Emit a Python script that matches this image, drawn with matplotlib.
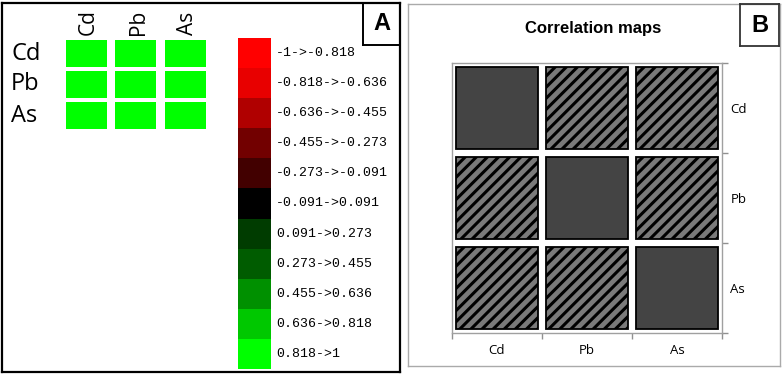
import numpy as np
import matplotlib
matplotlib.use("Agg")
import matplotlib.pyplot as plt
from matplotlib.colors import ListedColormap, BoundaryNorm
from matplotlib.patches import Rectangle

W, H = 782, 377

# data
elements = ['Cd', 'Pb', 'As']
corr = np.array([[1.00, 0.93, 0.90],
                 [0.93, 1.00, 0.91],
                 [0.90, 0.91, 1.00]])
bin_edges = [-1, -0.818, -0.636, -0.455, -0.273, -0.091, 0.091, 0.273, 0.455, 0.636, 0.818, 1]
bin_labels = ['-1->-0.818', '-0.818->-0.636', '-0.636->-0.455', '-0.455->-0.273',
              '-0.273->-0.091', '-0.091->0.091', '0.091->0.273', '0.273->0.455',
              '0.455->0.636', '0.636->0.818', '0.818->1']
bin_colors = ['#ff0000', '#e80000', '#b00000', '#720000', '#420000', '#000000',
              '#003c00', '#005c00', '#009000', '#00c800', '#00ff00']

cmap = ListedColormap(bin_colors)
norm = BoundaryNorm(bin_edges, cmap.N)


def box(x0, y0, x1, y1):
    """pixel box (top-left origin) -> figure fraction rect"""
    return [x0 / W, 1 - y1 / H, (x1 - x0) / W, (y1 - y0) / H]


def frame(rect, color, lw):
    ax = fig.add_axes(rect)
    ax.set_xticks([])
    ax.set_yticks([])
    ax.patch.set_alpha(0)
    for s in ax.spines.values():
        s.set_color(color)
        s.set_linewidth(lw)
    return ax


fig = plt.figure(figsize=(W / 100, H / 100), dpi=100)

# ---------- panel A ----------
frame(box(2, 3, 400, 372), 'black', 1.6)
fa = frame(box(363, 3, 400, 45), 'black', 1.4)
fa.text(0.5, 0.5, 'A', ha='center', va='center', fontsize=17, fontweight='bold',
        family='Liberation Sans')

ax = fig.add_axes(box(61.5, 38, 210, 131))
ax.set_xlim(0, 3)
ax.set_ylim(3, 0)
ax.axis('off')
for i in range(3):
    for j in range(3):
        ax.add_patch(Rectangle((j + 0.09, i + 0.08), 0.82, 0.84,
                               facecolor=cmap(norm(corr[i, j])), edgecolor='none'))
    ax.text(-1.02, i + 0.5, elements[i], ha='left', va='center', fontsize=17,
            family='Open Sans')
    ax.text(i + 0.55, -0.1, elements[i], ha='center', va='bottom', rotation=90,
            fontsize=15, family='Open Sans')

cax = fig.add_axes(box(238, 38, 271, 369))
centers = [(a + b) / 2 for a, b in zip(bin_edges[:-1], bin_edges[1:])]
cax.pcolormesh([0, 1], bin_edges, np.array(centers)[:, None], cmap=cmap, norm=norm)
cax.set_ylim(1, -1)
cax.set_xlim(0, 1)
cax.axis('off')
for c, lab in zip(centers, bin_labels):
    cax.text(1.16, c, lab, ha='left', va='center', fontsize=9.5, family='Liberation Mono')

# ---------- panel B ----------
frame(box(408, 4, 780, 366), '#aaaaaa', 1.0)
fb = frame(box(740, 4, 779, 46), '#333333', 1.3)
fb.text(0.5, 0.5, 'B', ha='center', va='center', fontsize=17, fontweight='bold',
        family='Liberation Sans')
fig.text(593 / W, 1 - 28 / H, 'Correlation maps', ha='center', va='center',
         fontsize=12, fontweight='bold', family='Liberation Sans')

plt.rcParams['hatch.linewidth'] = 2.2
bx = fig.add_axes(box(452, 63, 722, 333))
bx.set_xlim(0, 3)
bx.set_ylim(3, 0)
for i in range(3):
    for j in range(3):
        if i == j:
            bx.add_patch(Rectangle((j + 0.045, i + 0.045), 0.91, 0.91,
                                   facecolor='#444444', edgecolor='black', lw=1.3))
        else:
            bx.add_patch(Rectangle((j + 0.045, i + 0.045), 0.91, 0.91,
                                   facecolor='#7a7a7a', edgecolor='black', lw=1.3,
                                   hatch='///'))
for s in bx.spines.values():
    s.set_color('#a0a0a0')
    s.set_linewidth(1.0)
bx.yaxis.tick_right()
bx.set_xticks(range(4))
bx.set_yticks(range(4))
bx.set_xticklabels([])
bx.set_yticklabels([])
bx.set_xticks(np.arange(3) + 0.5, minor=True)
bx.set_yticks(np.arange(3) + 0.5, minor=True)
bx.set_xticklabels(elements, minor=True, fontsize=9.5, family='Open Sans')
bx.set_yticklabels(elements, minor=True, fontsize=9.5, family='Open Sans')
bx.tick_params(which='major', length=4, color='#909090', width=1)
bx.tick_params(which='minor', length=0)
bx.tick_params(axis='x', which='minor', pad=8)
bx.tick_params(axis='y', which='minor', pad=6)

fig.savefig('out.png', dpi=100)
